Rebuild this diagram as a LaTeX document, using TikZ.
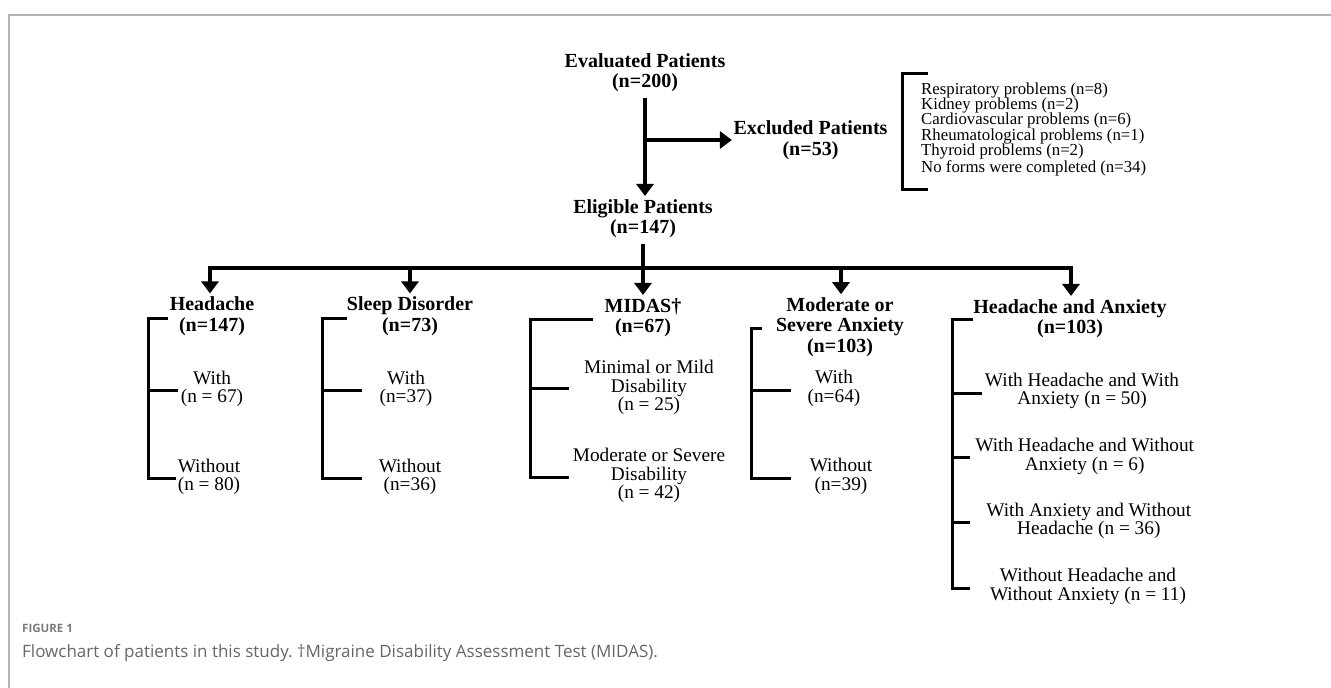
\documentclass[tikz,border=0pt]{standalone}
\usepackage{fontspec}
\setmainfont{Liberation Serif}
\newfontfamily\capfont{Open Sans}
\usetikzlibrary{arrows.meta}
\definecolor{framegray}{HTML}{B4B4B4}
\definecolor{capgray}{HTML}{666666}
\definecolor{figgray}{HTML}{7A7A7A}
\frenchspacing
\begin{document}
\begin{tikzpicture}[x=1pt,y=-1pt,
  hdr/.style={align=center,inner sep=0pt,font=\fontsize{20}{20.5}\selectfont\bfseries},
  sub/.style={align=center,inner sep=0pt,font=\fontsize{19.3}{18.3}\selectfont},
  reasonlist/.style={align=left,inner sep=0pt,anchor=west,font=\fontsize{16.8}{15.4}\selectfont},
  ln/.style={line width=3.5pt},
  brk/.style={line width=3pt},
  arr/.style={line width=3.5pt,-{Triangle[width=17pt,length=12pt]}},
]
\useasboundingbox (0,0) rectangle (1331,688);
% frame
\draw[framegray, line width=1.3pt] (9,688) -- (9,15) -- (1331,15);

% top nodes
\node[hdr] (eval) at (645,72.5) {Evaluated Patients\\(n=200)};
\node[hdr] (excl) at (810.5,140) {Excluded Patients\\(n=53)};
\node[reasonlist] (reasons) at (921,129) {Respiratory problems (n=8)\\Kidney problems (n=2)\\Cardiovascular problems (n=6)\\Rheumatological problems (n=1)\\Thyroid problems (n=2)\\No forms were completed (n=34)};
\node[hdr] (elig) at (643,218.5) {Eligible Patients\\(n=147)};

% column headers
\node[hdr] (hd) at (212,316) {Headache\\(n=147)};
\node[hdr] (sd) at (410,316) {Sleep Disorder\\(n=73)};
\node[hdr] (mi) at (643,317.5) {MIDAS†\\(n=67)};
\node[hdr] (ma) at (840,327) {Moderate or\\Severe Anxiety\\(n=103)};
\node[hdr] (ha) at (1070,318.5) {Headache and Anxiety\\(n=103)};

% sub items
\node[sub] (hdw) at (212,389) {With\\(n = 67)};
\node[sub] (hdwo) at (209,477) {Without\\(n = 80)};
\node[sub] (sdw) at (406,389) {With\\(n=37)};
\node[sub] (sdwo) at (410,477) {Without\\(n=36)};
\node[sub] (mimin) at (649,387.5) {Minimal or Mild\\Disability\\(n = 25)};
\node[sub] (mimod) at (649,475.5) {Moderate or Severe\\Disability\\(n = 42)};
\node[sub] (maw) at (834,388.5) {With\\(n=64)};
\node[sub] (mawo) at (841,476.5) {Without\\(n=39)};
\node[sub] (ha1) at (1082,391) {With Headache and With\\Anxiety (n = 50)};
\node[sub] (ha2) at (1084.7,456.5) {With Headache and Without\\Anxiety (n = 6)};
\node[sub] (ha3) at (1088.8,521) {With Anxiety and Without\\Headache (n = 36)};
\node[sub] (ha4) at (1088,586.5) {Without Headache and\\Without Anxiety (n = 11)};

% flow connectors
\coordinate (j1) at (645,140);
\draw[arr] ([yshift=-6pt]eval.south) -- ([yshift=3pt]eval.south |- elig.north);
\draw[arr] (j1) -- ([xshift=-1.5pt]j1 -| excl.west);

\coordinate (b1) at (210,268);
\coordinate (b2) at (410,268);
\coordinate (b3) at (643,268);
\coordinate (b4) at (841,268);
\coordinate (b5) at (1071,268);
\draw[ln] ([yshift=-6pt]elig.south) -- (elig.south |- b3);
\draw[ln, line cap=rect] (b1) -- (b5);
\draw[arr] (b1) -- ([yshift=3pt]b1 |- hd.north);
\draw[arr] (b2) -- ([yshift=3pt]b2 |- sd.north);
\draw[arr] (b3) -- ([yshift=3pt]b3 |- mi.north);
\draw[arr] (b4) -- ([yshift=3pt]b4 |- ma.north);
\draw[arr] (b5) -- ([yshift=3pt]b5 |- ha.north);

% brackets
\draw[brk] (928,73) -- (902,73) -- (902,189) -- (928,189);
\draw[brk] (168,318) -- (148,318) -- (148,478) -- (176,478);
\draw[brk] (148,390) -- (178,390);
\draw[brk] (347,318) -- (322,318) -- (322,478) -- (362,478);
\draw[brk] (322,390) -- (362,390);
\draw[brk] (593,319) -- (530,319) -- (530,477) -- (569,477);
\draw[brk] (530,388) -- (569,388);
\draw[brk] (762,328) -- (751,328) -- (751,478) -- (791,478);
\draw[brk] (751,390) -- (791,390);
\draw[brk] (973,319) -- (952,319) -- (952,588) -- (970,588);
\draw[brk] (952,393) -- (982,393);
\draw[brk] (952,457) -- (970,457);
\draw[brk] (952,522) -- (970,522);

% caption
\node[anchor=base west, inner sep=0pt, text=figgray, font=\capfont\fontsize{11.5}{14}\selectfont\bfseries] (fig) at (22,632) {FIGURE 1};
\node[anchor=base west, inner sep=0pt, text=capgray, font=\capfont\fontsize{17}{20}\selectfont] (cap) at (22,657) {Flowchart of patients in this study. †Migraine Disability Assessment Test (MIDAS).};
\end{tikzpicture}
\end{document}
